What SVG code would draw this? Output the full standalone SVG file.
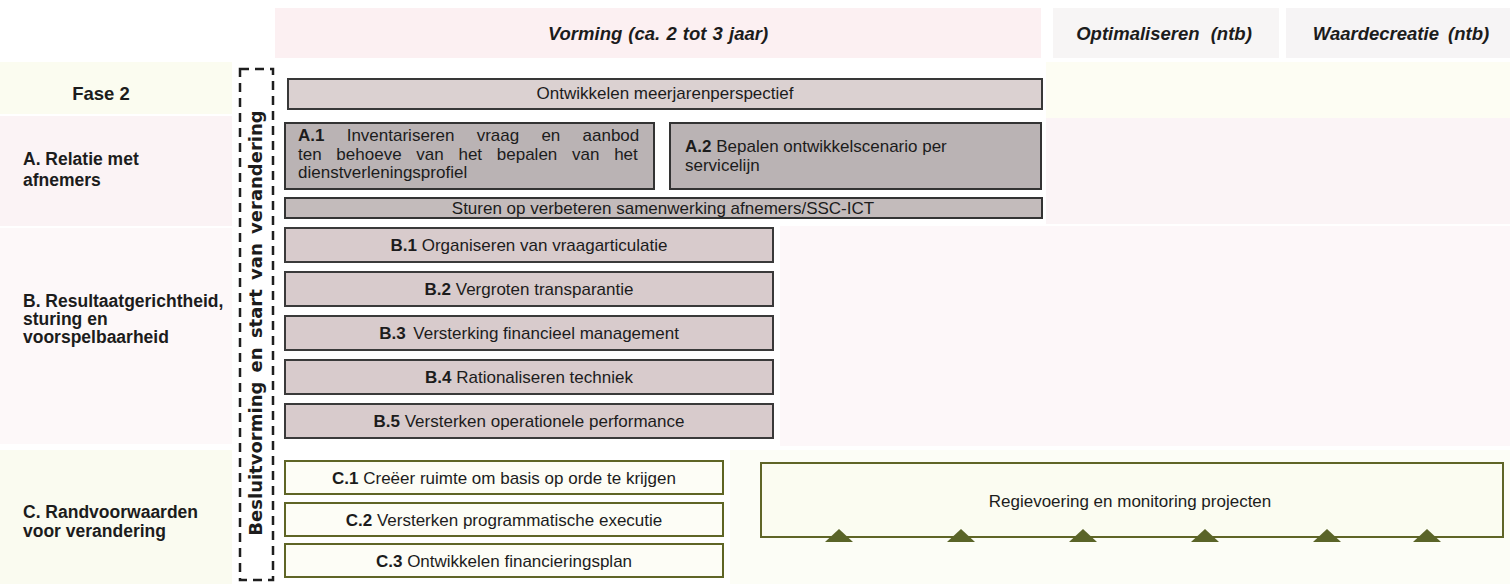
<svg xmlns="http://www.w3.org/2000/svg" width="1510" height="584" viewBox="0 0 1510 584">
  <defs>
    <style>
      .txt { font-family: "Liberation Sans", Arial, sans-serif; font-size: 17px; fill: #1c1c1c; }
      .ctr { text-anchor: middle; }
      .b { font-weight: bold; }
      .lbl { font-family: "Liberation Sans", Arial, sans-serif; font-size: 17.5px; font-weight: bold; fill: #1c1c1c; }
      .hdr { font-family: "Liberation Sans", Arial, sans-serif; font-size: 18.5px; font-weight: bold; font-style: italic; fill: #1c1c1c; text-anchor: middle; }
      .vert { font-family: "DejaVu Sans", Verdana, sans-serif; font-size: 18px; font-weight: bold; fill: #1c1c1c; text-anchor: middle; word-spacing: 3px; }
      .bx-light { fill: #dbd1d1; stroke: #383838; stroke-width: 2; }
      .bx-dark { fill: #bab3b4; stroke: #333333; stroke-width: 2; }
      .bx-mid { fill: #c3bbbb; stroke: #333333; stroke-width: 2; }
      .bx-pink { fill: #d8cbcc; stroke: #3a3a3a; stroke-width: 2; }
      .bx-c { fill: #fdfdf6; stroke: #5f6526; stroke-width: 2; }
      .bx-r { fill: #fbfcf1; stroke: #5f6526; stroke-width: 2; }
      .tri { fill: #5a6428; }
      .dash { fill: none; stroke: #1e1e1e; stroke-width: 2.5; stroke-dasharray: 9 6; }
    </style>
  </defs>

  <!-- background bands -->
  <g id="background">
    <rect x="0" y="0" width="1510" height="584" fill="#ffffff"/>
    <rect x="275" y="8" width="766" height="50" fill="#fcf0f2"/>
    <rect x="1053" y="8" width="226" height="50" fill="#f7f5f5"/>
    <rect x="1286" y="8" width="224" height="50" fill="#f6f4f5"/>
    <rect x="0" y="62" width="232" height="52" fill="#fbfcf0"/>
    <rect x="1046" y="62" width="464" height="56" fill="#fdfdf3"/>
    <rect x="0" y="116" width="232" height="110" fill="#fbf3f5"/>
    <rect x="1046" y="118" width="464" height="106" fill="#fbf4f6"/>
    <rect x="0" y="228" width="232" height="216" fill="#fdf8f9"/>
    <rect x="780" y="226" width="730" height="220" fill="#fdf7f9"/>
    <rect x="0" y="450" width="232" height="134" fill="#fafbf0"/>
    <rect x="730" y="450" width="780" height="134" fill="#fcfdf6"/>
  </g>

  <!-- header texts -->
  <g id="headers">
    <text class="hdr" x="658" y="40" style="word-spacing:1px">Vorming (ca. 2 tot 3 jaar)</text>
    <text class="hdr" x="1164" y="40" style="word-spacing:6px">Optimaliseren (ntb)</text>
    <text class="hdr" x="1401" y="40" style="word-spacing:4px">Waardecreatie (ntb)</text>
  </g>

  <!-- row labels -->
  <g id="labels">
    <text class="lbl" x="101" y="100" text-anchor="middle" style="font-size:18.5px">Fase 2</text>
    <text class="lbl" x="23" y="165">A. Relatie met</text>
    <text class="lbl" x="23" y="186">afnemers</text>
    <text class="lbl" x="23" y="307">B. Resultaatgerichtheid,</text>
    <text class="lbl" x="23" y="325">sturing en</text>
    <text class="lbl" x="23" y="343">voorspelbaarheid</text>
    <text class="lbl" x="23" y="518">C. Randvoorwaarden</text>
    <text class="lbl" x="23" y="537">voor verandering</text>
  </g>

  <!-- decision bracket -->
  <g id="besluitvorming">
    <rect class="dash" x="240" y="69" width="33" height="511"/>
    <text class="vert" transform="translate(262,323) rotate(-90)">Besluitvorming en start van verandering</text>
  </g>

  <g id="ontwikkelen">
    <rect class="bx-light" x="288" y="79" width="754" height="30"/>
    <text class="txt ctr" x="665" y="99">Ontwikkelen meerjarenperspectief</text>
  </g>

  <g id="a1">
    <rect class="bx-dark" x="285" y="123" width="369" height="66"/>
    <text class="txt" x="298" y="141" style="word-spacing:17.5px"><tspan class="b">A.1</tspan> Inventariseren vraag en aanbod</text>
    <text class="txt" x="298" y="159.5" style="word-spacing:10px">ten behoeve van het bepalen van het</text>
    <text class="txt" x="298" y="178">dienstverleningsprofiel</text>
  </g>

  <g id="a2">
    <rect class="bx-dark" x="670" y="123" width="371" height="66"/>
    <text class="txt" x="685" y="152"><tspan class="b">A.2</tspan> Bepalen ontwikkelscenario per</text>
    <text class="txt" x="685" y="171">servicelijn</text>
  </g>

  <g id="sturen">
    <rect class="bx-mid" x="285" y="198" width="757" height="20"/>
    <text class="txt ctr" x="663" y="214">Sturen op verbeteren samenwerking afnemers/SSC-ICT</text>
  </g>

  <g id="b1">
    <rect class="bx-pink" x="285" y="228" width="488" height="34"/>
    <text class="txt ctr" x="529" y="251"><tspan class="b">B.1</tspan> Organiseren van vraagarticulatie</text>
  </g>
  <g id="b2">
    <rect class="bx-pink" x="285" y="272" width="488" height="34"/>
    <text class="txt ctr" x="529" y="295"><tspan class="b">B.2</tspan> Vergroten transparantie</text>
  </g>
  <g id="b3">
    <rect class="bx-pink" x="285" y="316" width="488" height="34"/>
    <text class="txt ctr" x="529" y="339"><tspan class="b">B.3</tspan><tspan dx="3"> Versterking financieel management</tspan></text>
  </g>
  <g id="b4">
    <rect class="bx-pink" x="285" y="360" width="488" height="34"/>
    <text class="txt ctr" x="529" y="383"><tspan class="b">B.4</tspan> Rationaliseren techniek</text>
  </g>
  <g id="b5">
    <rect class="bx-pink" x="285" y="404" width="488" height="34"/>
    <text class="txt ctr" x="529" y="427"><tspan class="b">B.5</tspan> Versterken operationele performance</text>
  </g>

  <g id="c1">
    <rect class="bx-c" x="285" y="461" width="438" height="33"/>
    <text class="txt ctr" x="504" y="484"><tspan class="b">C.1</tspan> Creëer ruimte om basis op orde te krijgen</text>
  </g>
  <g id="c2">
    <rect class="bx-c" x="285" y="503" width="438" height="33"/>
    <text class="txt ctr" x="504" y="526"><tspan class="b">C.2</tspan> Versterken programmatische executie</text>
  </g>
  <g id="c3">
    <rect class="bx-c" x="285" y="544" width="438" height="33"/>
    <text class="txt ctr" x="504" y="567"><tspan class="b">C.3</tspan> Ontwikkelen financieringsplan</text>
  </g>

  <g id="regievoering">
    <rect class="bx-r" x="761" y="463" width="742" height="74"/>
    <text class="txt ctr" x="1130" y="507">Regievoering en monitoring projecten</text>
  </g>

  <g id="connectors">
    <polygon class="tri" points="825,542 839,529 853,542"/>
    <polygon class="tri" points="947,542 961,529 975,542"/>
    <polygon class="tri" points="1069,542 1083,529 1097,542"/>
    <polygon class="tri" points="1191,542 1205,529 1219,542"/>
    <polygon class="tri" points="1313,542 1327,529 1341,542"/>
    <polygon class="tri" points="1413,542 1427,529 1441,542"/>
  </g>
</svg>
